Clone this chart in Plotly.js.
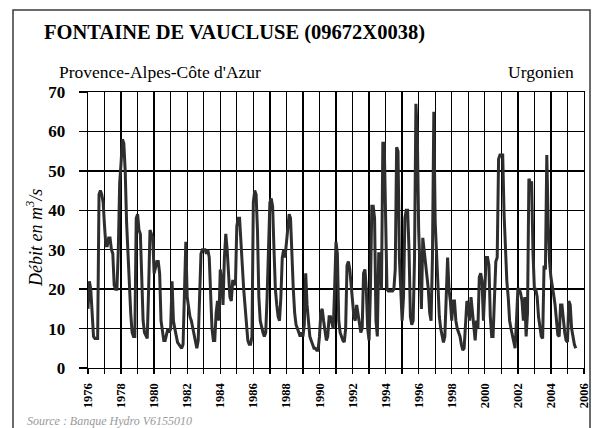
<!DOCTYPE html>
<html>
<head>
<meta charset="utf-8">
<script src="https://cdn.plot.ly/plotly-3.0.1.min.js"></script>
<style>
html, body { margin: 0; padding: 0; background: #ffffff; }
#chart { width: 592px; height: 428px; }
</style>
</head>
<body>
<div id="chart"></div>
<script>
// Monthly discharge (m3/s), Jan 1976 .. Jul 2005
const startYear = 1976;
const debit = [
  15, 22, 20, 14, 8, 7.5, 7.5, 7.5, 44, 45, 44, 42,      // 1976
  36, 31, 31, 33, 33, 30, 29, 21, 20, 20, 30, 47,        // 1977
  52, 58, 57, 50, 37, 28, 20, 14, 9, 8, 8, 38,           // 1978
  39, 35, 34, 20, 12, 9, 8, 7.5, 20, 35, 34, 33,         // 1979
  24, 26, 27, 27, 24, 12, 9, 7, 7, 9, 10, 9,             // 1980
  10, 22, 12, 10, 8, 6.5, 6, 5.5, 5, 6, 20, 32,          // 1981
  18, 15, 13, 12, 10, 8, 6, 5, 7, 20, 29, 30,            // 1982
  30, 30, 29, 30, 28, 17, 10, 7, 7, 14, 17, 12,          // 1983
  25, 22, 16, 28, 34, 30, 25, 18, 17, 22, 22, 21,        // 1984
  36, 38, 38, 33, 26, 20, 15, 10, 7, 6, 6, 8,            // 1985
  42, 45, 44, 35, 18, 12, 10, 9, 8, 9, 18, 28,           // 1986
  42, 43, 41, 30, 20, 16, 13, 12, 18, 28, 30, 28,        // 1987
  32, 37, 39, 38, 27, 20, 14, 11, 10, 9, 8, 9,           // 1988
  8, 11, 24, 16, 11, 8, 7, 6, 5, 5, 4.5, 4.5,            // 1989
  8, 14, 15, 12, 10, 7, 8, 13, 13, 11, 10, 20,           // 1990
  32, 29, 12, 9, 8, 7, 6.6, 10, 26, 27, 25, 20,          // 1991
  17, 13, 12, 16, 14, 12, 9, 10, 24, 25, 20, 10,         // 1992
  7, 20, 41, 41, 38, 12, 8, 29, 29, 20, 57, 57,          // 1993
  35, 20, 19.5, 19.5, 19.5, 19.5, 20, 25, 56, 55, 28, 18,// 1994
  12, 18, 38, 40, 40, 30, 13, 11, 12, 28, 67, 60,        // 1995
  35, 25, 15, 33, 30, 27, 24, 20, 14, 12, 28, 65,        // 1996
  37, 28, 20, 13, 10, 8, 6.5, 8, 16, 28, 20, 17,         // 1997
  12, 17, 17, 12, 10, 9, 8, 6, 4.5, 5, 12, 17,           // 1998
  16, 12, 18, 14, 10, 7, 12, 10, 23, 24, 22, 12,         // 1999
  20, 28, 28, 26, 13, 8, 8, 18, 27, 28, 53, 54,          // 2000
  54, 54, 39, 29, 22, 18, 12, 10, 8, 6, 5, 12,           // 2001
  20, 20, 19, 17, 12, 18, 8, 14, 48, 47, 47, 29,         // 2002
  20, 20, 18, 13, 10, 8, 7.5, 26, 25, 54, 37, 27,        // 2003
  23, 20, 18.5, 16, 11, 8.4, 8, 16, 16, 12, 9, 7,        // 2004
  6.6, 17, 16, 10, 7.5, 6, 5                             // 2005
];
const gridYears = [1976,1977,1978,1979,1980,1981,1982,1983,1984,1985,1986,1987,1988,1989,1990,
                   1991,1992,1993,1994,1995,1996,1997,1998,1999,2000,2001,2002,2003,2004,2005,2006];
const yearLabels = gridYears.map(y => (y % 2 === 0 ? String(y) : ' '));
const yTicks = [0, 10, 20, 30, 40, 50, 60, 70];

const titleText = 'FONTAINE DE VAUCLUSE (09672X0038)';
const regionText = "Provence-Alpes-Côte d'Azur";
const aquiferText = 'Urgonien';
const yTitleText = 'Débit en m<sup>3</sup>/s';
const sourceText = 'Source : Banque Hydro V6155010';

const xVals = debit.map((v, i) => startYear + i / 12);

const serif = 'Liberation Serif, Times New Roman, serif';

// plot area in pixels: x 88..584, y 92..368
const L = 88, R = 584, T = 92, B = 368;
const px = x => (x - L) / (R - L);
const py = y => (B - y) / (B - T);

const trace = {
  x: xVals,
  y: debit,
  type: 'scatter',
  mode: 'lines',
  line: { color: '#2e2e2e', width: 3 },
  hoverinfo: 'skip'
};

const layout = {
  width: 592,
  height: 428,
  margin: { l: L, r: 592 - R, t: T, b: 428 - B, pad: 0 },
  paper_bgcolor: '#ffffff',
  plot_bgcolor: '#ffffff',
  showlegend: false,
  xaxis: {
    range: [1976, 2006],
    tickmode: 'array',
    tickvals: gridYears,
    ticktext: yearLabels,
    tickangle: -90,
    ticks: 'outside',
    ticklen: 5,
    tickwidth: 1.3,
    tickcolor: '#000',
    showgrid: true,
    gridcolor: '#000',
    gridwidth: 1.3,
    showline: true,
    linecolor: '#000',
    linewidth: 1.3,
    mirror: true,
    zeroline: false,
    ticklabelstandoff: 4,
    tickfont: { family: serif, size: 12.5, color: '#000', weight: 'bold' }
  },
  yaxis: {
    range: [0, 70],
    tickmode: 'array',
    tickvals: yTicks,
    ticktext: yTicks.map(String),
    ticks: 'outside',
    ticklen: 8,
    tickwidth: 1.3,
    tickcolor: '#000',
    showgrid: true,
    gridcolor: '#000',
    gridwidth: 1.3,
    showline: true,
    linecolor: '#000',
    linewidth: 1.3,
    mirror: true,
    zeroline: false,
    ticklabelstandoff: 10,
    tickfont: { family: serif, size: 17, color: '#000', weight: 'bold' }
  },
  annotations: [
    { text: '<b>' + titleText + '</b>', xref: 'paper', yref: 'paper',
      x: px(42), y: py(33), xanchor: 'left', yanchor: 'middle', showarrow: false,
      font: { family: serif, size: 20.5, color: '#000' } },
    { text: regionText, xref: 'paper', yref: 'paper',
      x: px(57), y: py(72), xanchor: 'left', yanchor: 'middle', showarrow: false,
      font: { family: serif, size: 17.5, color: '#000' } },
    { text: aquiferText, xref: 'paper', yref: 'paper',
      x: px(576), y: py(72), xanchor: 'right', yanchor: 'middle', showarrow: false,
      font: { family: serif, size: 17.5, color: '#000' } },
    { text: '<i>' + yTitleText + '</i>', xref: 'paper', yref: 'paper',
      x: px(34), y: py(238), xanchor: 'center', yanchor: 'middle', textangle: -90, showarrow: false,
      font: { family: serif, size: 18, color: '#000' } },
    { text: '<i>' + sourceText + '</i>', xref: 'paper', yref: 'paper',
      x: px(25), y: py(421), xanchor: 'left', yanchor: 'middle', showarrow: false,
      font: { family: serif, size: 12, color: '#9a9a9a' } }
  ],
  shapes: [
    { type: 'rect', xref: 'paper', yref: 'paper',
      x0: px(13), x1: px(590), y0: py(445), y1: py(10),
      line: { color: '#3a3a3a', width: 1.5 }, fillcolor: 'rgba(0,0,0,0)', layer: 'below' }
  ]
};

Plotly.newPlot('chart', [trace], layout, { displayModeBar: false, staticPlot: true });
</script>
</body>
</html>
